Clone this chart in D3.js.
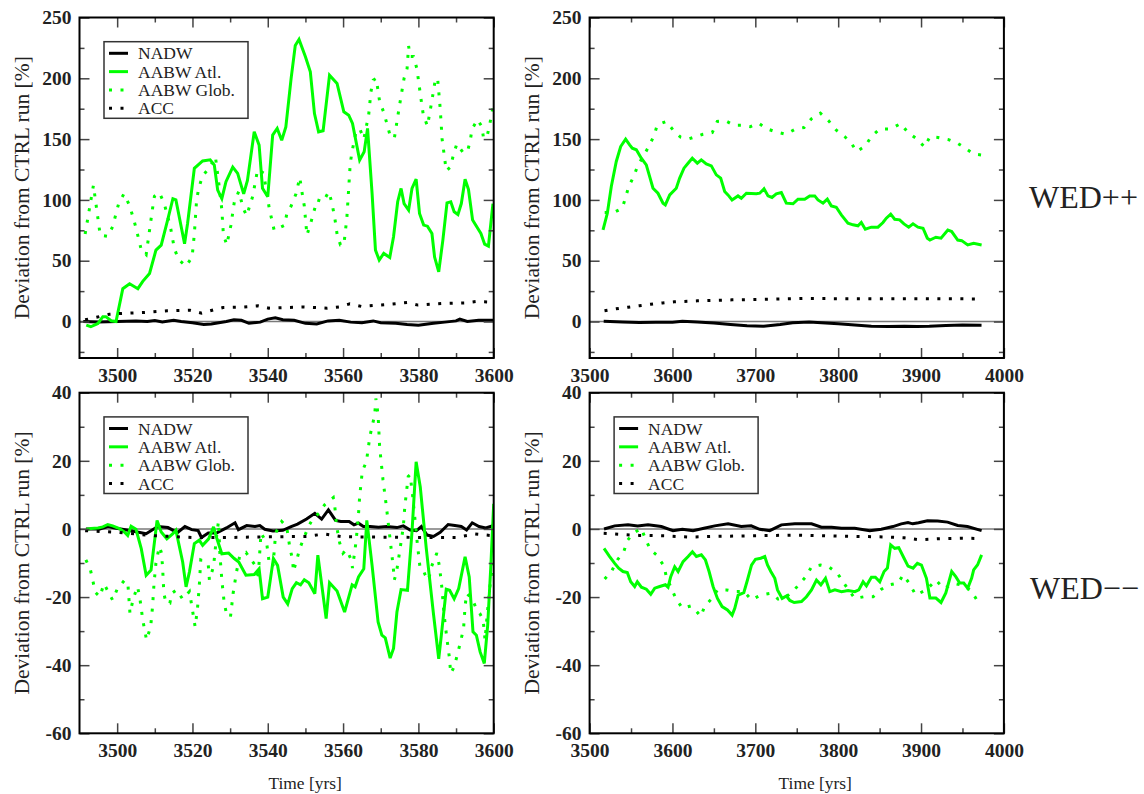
<!DOCTYPE html>
<html><head><meta charset="utf-8">
<script src="https://cdn.jsdelivr.net/npm/d3@7"></script>
<style>body{margin:0;background:#fff;} svg{display:block;}</style>
</head><body>
<svg id="c" width="1144" height="794"></svg>
<script>
// ---------------- DATA ----------------
const seriesNames = ["NADW", "AABW Atl.", "AABW Glob.", "ACC"];
const rowLabels = ["WED++", "WED\u2212\u2212"];
const yAxisTitle = "Deviation from CTRL run [%]";
const xAxisTitle = "Time [yrs]";

const xTicksShort = [3500, 3520, 3540, 3560, 3580, 3600];
const xMinorShort = [3510, 3530, 3550, 3570, 3590];
const xTicksLong = [3500, 3600, 3700, 3800, 3900, 4000];
const xMinorLong = [3550, 3650, 3750, 3850, 3950];
const yTicksTop = [0, 50, 100, 150, 200, 250];
const yMinorTop = [-25, 25, 75, 125, 175, 225];
const yTicksBottom = [-60, -40, -20, 0, 20, 40];
const yMinorBottom = [-50, -30, -10, 10, 30];

// Panel 1: WED++ , years 3490-3600
const p1_NADW = [[3491,0],[3495,-0.3],[3500,0],[3505,0.5],[3508,0],[3510,0.8],[3512,-0.3],[3515,1],[3517,0],[3520,-1],[3523,-2.5],[3525,-2],[3527,-1],[3529,0],[3531,1.5],[3533,1],[3535,-1.5],[3538,-0.5],[3540,2],[3542,3],[3544,1.5],[3547,1],[3550,-1.5],[3553,-2],[3556,0.5],[3559,1],[3562,-0.5],[3565,-1],[3568,0.5],[3570,-1],[3574,-1.5],[3577,-2.5],[3580,-3],[3584,-1.5],[3587,-0.5],[3590,0.5],[3591,2],[3593,0],[3596,1],[3600,1]];
const p1_AABW_Atl = [[3491.8,-3],[3493,-4.3],[3494.9,-1.6],[3496.2,4],[3497,4],[3498.4,0.6],[3499.7,0],[3501.5,27],[3503.3,31],[3505.5,27],[3506.8,33],[3508.6,39.5],[3510.3,58.7],[3511.7,62.8],[3513.4,83.4],[3514.8,101],[3515.6,100],[3517.9,64],[3518.7,80.6],[3520.5,126],[3522.7,132],[3524.7,133],[3525.8,128.6],[3526.7,108],[3527.8,101],[3528.9,115],[3530.7,127],[3532,121.8],[3533.6,105],[3534.6,116],[3536.4,156],[3537.7,145],[3538.6,109.5],[3540,102.6],[3541.3,153.3],[3542.5,158.8],[3543.7,149],[3544.8,160],[3546.2,200],[3547.3,227],[3548.3,232],[3550,217.7],[3551.3,205.4],[3552.4,171],[3553.5,156],[3554.7,156.9],[3556.4,202.6],[3558.4,195.8],[3560.2,172.5],[3561.5,169.7],[3562.5,162.9],[3564.4,132.7],[3565.6,139.6],[3566.5,158.8],[3567.7,105.3],[3568.6,58.7],[3569.6,50.5],[3570.8,56],[3572.4,52.7],[3573.4,69.7],[3574.5,98.5],[3575.4,109.4],[3576.2,97],[3577.4,91.6],[3578.3,109.4],[3579.4,117],[3580.3,88.9],[3581.4,79.3],[3582.4,78.4],[3583.6,72.4],[3584.3,53],[3585.4,40.9],[3586.5,66.9],[3587.6,97.6],[3588.6,98.5],[3589.5,90.2],[3590.5,88],[3591.4,97],[3592.4,117],[3593.3,108.6],[3594.4,83.4],[3595.5,77.9],[3596.6,72.4],[3597.6,63.6],[3598.6,62],[3599.8,97]];
const p1_AABW_Glob = [[3491.5,72],[3493.7,112],[3495.5,71],[3497.5,70],[3498.8,78],[3500.4,97],[3501.8,105],[3503.2,96],[3504.2,86],[3505,77],[3506.4,59],[3507.7,55],[3508.6,75],[3509.4,93],[3509.9,103],[3511.2,106],[3512.5,97],[3514.1,78.5],[3515.2,60],[3516.3,51],[3518.3,45.5],[3519.9,53],[3520.5,72],[3521.1,100],[3521.7,110],[3522.7,120],[3524.7,127],[3526.1,135.5],[3527.1,111],[3527.8,92],[3528.2,72],[3529.1,63],[3530.2,79],[3531.1,98],[3532.3,107],[3533.5,93],[3534.4,87],[3536,103],[3537.3,125],[3538.9,122],[3540.4,93],[3541.7,75],[3544.4,79],[3545.1,89],[3546.2,95],[3547.5,105],[3548.5,118.5],[3549,108],[3549.7,95],[3550.4,71],[3551.5,82],[3553.1,100],[3554.7,98.5],[3556.2,106.7],[3557,98],[3557.8,85],[3558.4,72],[3559.3,63],[3560.2,63],[3561,85],[3561.9,130],[3562.4,140],[3563.5,157],[3564.5,158],[3565.5,150],[3566.8,170],[3567.4,189],[3568,198.5],[3568.8,200],[3569.7,181],[3570.8,172],[3572.4,154],[3573.6,150.5],[3575,178],[3576.2,200],[3577,208],[3577.4,226.5],[3577.8,218],[3578.7,218],[3579.6,208],[3580.6,185],[3581.3,170],[3582.4,160.7],[3583.5,180],[3584.5,199],[3585.1,200],[3585.8,175],[3586.3,150],[3587.4,124],[3588.5,127],[3589.3,137],[3590.2,146],[3591.8,139.3],[3593,139.3],[3593.8,149],[3594.2,158],[3595.7,166],[3596.9,160],[3597.3,150.5],[3598.3,153],[3598.9,161.5],[3599.5,171],[3600,180]];
const p1_ACC = [[3491.5,1.4],[3494.5,3.5],[3497.9,6],[3502,6.8],[3507.2,7.4],[3513.3,8.8],[3519.3,9.3],[3522.4,6.9],[3525.5,9.5],[3528.1,11.5],[3533,11.8],[3537.4,12.9],[3540.3,11],[3545,11.5],[3549.6,12],[3555.8,11],[3558.9,12],[3561.8,14.5],[3564.9,12.4],[3571,13.8],[3577,15.6],[3579.9,13.5],[3586.1,14.8],[3592.3,15.3],[3595.2,16.4],[3600,16]];

// Panel 2: WED++ , years 3500-4000
const p2_NADW = [[3517,0.3],[3540,-0.3],[3560,-0.8],[3580,-0.5],[3600,-0.5],[3612,0.3],[3630,-0.3],[3650,-1.2],[3670,-2.5],[3690,-3.5],[3710,-3.8],[3730,-2.5],[3745,-1],[3765,-0.3],[3785,-1.2],[3800,-1.8],[3820,-2.8],[3840,-3.8],[3860,-4],[3880,-3.8],[3895,-4],[3910,-3.8],[3930,-3.2],[3950,-2.8],[3973,-3]];
const p2_AABW_Atl = [[3516.2,75.4],[3521.4,89],[3526.2,111],[3532.2,131.6],[3537.5,143.9],[3543.5,150],[3548.3,145.3],[3551.5,142.5],[3556.4,141.2],[3562.4,134.3],[3568.4,128.8],[3572.5,119.2],[3576.5,109.6],[3582.5,105.5],[3588.6,97.3],[3591.4,95.9],[3596.7,104.1],[3604.6,109.6],[3608.7,117.9],[3613.9,126.1],[3618.8,130.2],[3623.9,134.3],[3630,130.2],[3634.8,132.9],[3640.8,129.6],[3646.9,128],[3652.9,120.6],[3658.2,117.9],[3663,106.9],[3667,104.1],[3671.9,100],[3679.1,103.3],[3683.1,101.4],[3689.2,105.5],[3701.2,105],[3705.3,105.5],[3710.5,109.1],[3715.3,103.3],[3720.1,102],[3725.3,105],[3731.4,106.1],[3737.4,97.3],[3745.5,96.8],[3751.5,100.6],[3759.6,100.6],[3765.6,103.3],[3771.7,103.3],[3775.6,100],[3781.7,97.3],[3786.9,100.6],[3791.7,95.1],[3797.7,94],[3803.8,87.7],[3811.8,80.9],[3817.9,79.5],[3823.9,78.7],[3827.9,81.4],[3832.7,75.9],[3840,77.6],[3848,77.6],[3854.1,81.4],[3858.1,85],[3863.4,88.3],[3868.2,84.1],[3874.2,83.6],[3879.4,80.3],[3885.1,77.6],[3890.3,80.3],[3896.3,77.6],[3902.4,76.7],[3907.6,68.5],[3910.7,67],[3917.9,69.3],[3924.1,68.5],[3932.3,75.3],[3937,74],[3944.3,67],[3949.1,66.5],[3956.3,63],[3963.5,64.3],[3973.1,63]];
const p2_AABW_Glob = [[3518.2,89.6],[3529,89.6],[3539.5,93.2],[3543.5,102.2],[3547.2,111],[3553.6,119.8],[3558.4,128.8],[3564.8,135.7],[3571.3,143.9],[3577.7,152.7],[3581.7,161.7],[3592.6,164.5],[3601.9,156.5],[3609.9,151.6],[3619.9,150.2],[3628.8,152.1],[3636.8,154],[3648.1,155.4],[3654.1,164.5],[3664.2,165],[3674.3,161.4],[3683.9,161.4],[3694,160.3],[3704,163.1],[3714.1,158.4],[3724.6,156],[3736.6,154],[3748.3,158.2],[3758.8,159.5],[3767.6,166.7],[3778.5,171.3],[3788.5,165],[3797.8,157.3],[3807.8,152.1],[3815.9,146.6],[3822.3,139.8],[3832.8,144.4],[3840,152.1],[3850.1,158.2],[3863.4,158.4],[3875.4,162.8],[3884.3,155.4],[3894.3,150.5],[3904.4,143.4],[3910.7,152],[3920.3,151.4],[3932.3,149.8],[3944.3,146.5],[3953.9,142.4],[3963.5,137.7],[3973.1,136.9]];
const p2_ACC = [[3518,8.8],[3531.5,10.4],[3546.4,11.8],[3560,13],[3573.7,14.2],[3588,15.3],[3602,16.2],[3630,17],[3671.9,17.8],[3710,18.2],[3756.8,18.9],[3800,18.8],[3850,18.7],[3900,18.7],[3973,18.6]];

// Panel 3: WED-- , years 3490-3600
const p3_NADW = [[3491.7,0],[3495.4,0],[3497.6,0.7],[3499.4,0.3],[3502.5,-0.3],[3504.3,-0.7],[3507.7,-1.4],[3510.8,0.7],[3513.5,0.4],[3516,-1.1],[3518,0.7],[3519.8,-0.2],[3521.5,-0.5],[3522.4,-2.5],[3524.2,-1.2],[3526.4,-1.2],[3529,0.3],[3531.3,1.8],[3532.2,-0.2],[3534.4,1],[3536.6,0.7],[3537.9,1],[3539.2,-0.1],[3541.4,-0.6],[3544,-0.4],[3546.2,0.7],[3547.9,1.4],[3550.3,2.9],[3552.5,4.6],[3554.3,2.9],[3556.1,5.6],[3558,2.5],[3559.4,2.2],[3561.6,2.2],[3562.9,1.2],[3564.1,1.7],[3565.4,0.7],[3567.2,0.7],[3569.4,0.5],[3571.6,0.7],[3574.3,0.4],[3576,0.9],[3577.8,-0.3],[3579.5,-0.5],[3580.8,0.7],[3582.3,-1.8],[3584,-2.2],[3585.8,-1],[3587.9,1.3],[3589.7,1],[3591.4,0.7],[3592.8,-0.3],[3594.3,1.8],[3596.1,0.7],[3597.9,0.3],[3600,1]];
const p3_AABW_Atl = [[3491.8,-0.1],[3493.1,0.1],[3494.9,0.3],[3496.2,0.6],[3497.5,1.3],[3498.8,0.9],[3500.6,0.1],[3501.9,-0.9],[3502.8,-1.9],[3503.7,0.8],[3505,-0.1],[3506.4,-5.8],[3507.7,-13.6],[3509,-12.1],[3510.6,2.5],[3511.7,-0.9],[3513.2,-2.9],[3514.8,-1.4],[3515.6,-0.4],[3517.4,-9.7],[3518.3,-17],[3519.2,-12.6],[3520.5,-4.3],[3521.8,-3.3],[3522.7,-4.8],[3524.3,-2.9],[3525.6,0.6],[3526.5,-2.9],[3527.8,-7.3],[3529.6,-7.1],[3531.1,-8.7],[3532.3,-9.7],[3534.2,-13.6],[3536.4,-13.4],[3537.7,-11.7],[3538.6,-20.5],[3540,-20],[3541.5,-8.7],[3542.6,-10.7],[3544.1,-20],[3545.3,-22],[3546.5,-17.5],[3547.6,-15.8],[3548.7,-16.4],[3549.7,-14.9],[3550.9,-15.8],[3552.5,-19],[3553.3,-7.7],[3555.5,-26.3],[3556.4,-15.8],[3558.4,-18.2],[3560.4,-24.4],[3562.4,-16.4],[3563.2,-17],[3564.1,-14.1],[3565.5,-11.7],[3566.3,2.5],[3567.7,-10.7],[3569.3,-27.3],[3570.3,-31.2],[3571.2,-32],[3572.5,-37.9],[3573.4,-35.1],[3574.3,-24.4],[3575.4,-17.8],[3577.1,-18],[3578.3,-0.9],[3579.4,19.7],[3580.5,12.3],[3582.1,-5.8],[3584,-24.9],[3585.4,-38.1],[3586.1,-31.2],[3587.4,-17.7],[3588.3,-18],[3589.5,-20.5],[3590.7,-17.5],[3592.4,-8.2],[3593.5,-14.1],[3594.5,-30.2],[3595.4,-31.2],[3596.4,-36.1],[3597.5,-39.5],[3598.4,-28.3],[3599.2,-11.7],[3600,7.4]];
const p3_AABW_Glob = [[3491.7,-9.1],[3492.9,-12],[3493.6,-15.5],[3494.2,-18.6],[3495.4,-19.9],[3496.5,-16.1],[3497.6,-18.4],[3498.8,-20.9],[3500,-17.7],[3502,-15],[3502.9,-16.9],[3503.4,-24.8],[3504.3,-20.4],[3505.4,-16.9],[3506,-20.1],[3506.8,-26.7],[3507.8,-32.6],[3508.9,-28.7],[3509.4,-22.8],[3509.8,-15.9],[3510.3,-10],[3511.2,-5.2],[3511.8,-7.1],[3512.1,-12],[3512.4,-18.9],[3513,-21.8],[3514,-21.8],[3514.5,-18.9],[3515.8,-17.9],[3517.4,-20.6],[3519.2,-18.4],[3520,-23.8],[3520.7,-28.7],[3521.3,-23.8],[3521.8,-16.9],[3522.2,-9.1],[3523.4,-9.6],[3524.2,-10.6],[3524.5,-15],[3525.6,-11],[3526.3,-3.2],[3526.9,2.2],[3527.3,-7.6],[3527.8,-15],[3528.4,-21.4],[3529.1,-25.3],[3530.1,-25.8],[3530.8,-18.9],[3531.7,-12.6],[3532.6,-7.6],[3534.2,-6.9],[3536.6,-10.6],[3537.4,-15],[3538.2,-1.2],[3539.7,-4.1],[3540.5,-11],[3541.4,-10.6],[3542.1,-1.2],[3543.7,2.2],[3545,0.7],[3545.9,-5.7],[3546.6,-9.1],[3546.8,-12.5],[3547.7,-9.1],[3548.5,-5.7],[3549.4,-3.2],[3550.8,0.7],[3552.1,3.2],[3553.6,4.6],[3555.1,7.1],[3557.4,9.2],[3557.8,6.6],[3558.3,0.7],[3559.1,-4.1],[3560,-7.1],[3560.9,-6.1],[3562.2,-9.1],[3562.5,-11.5],[3563.4,-4.1],[3564,2.7],[3564.4,9.5],[3565.1,16.9],[3566.2,19.8],[3567.1,27.1],[3568.4,33.5],[3568.7,38.3],[3569.3,33.5],[3569.7,24.2],[3570.6,14.4],[3571.5,6.6],[3572.4,-2.2],[3573.3,-11],[3573.6,-15],[3574.2,-12.6],[3575.1,-6.1],[3576,0.7],[3576.4,6.6],[3577.3,15.4],[3577.8,15.9],[3578.5,9.5],[3579.1,2.7],[3579.7,-4.1],[3580.4,-11],[3581.1,-11.5],[3581.8,-13.5],[3582.7,-15],[3583.5,-11],[3584.9,-7.1],[3585.6,-11],[3586.2,-16.9],[3586.8,-24.8],[3587.5,-31.6],[3588.2,-37.5],[3588.6,-42.4],[3589.5,-40.5],[3590.2,-37.5],[3591.1,-33.6],[3592,-29.2],[3592.4,-22.8],[3592.8,-18.9],[3593.7,-19.9],[3594.6,-21.3],[3595.5,-23.8],[3596.3,-24.8],[3597.2,-26.7],[3597.7,-32.6],[3598.3,-24.8],[3599,-16.9],[3599.7,-10.1],[3600,-12]];
const p3_ACC = [[3491.5,-0.5],[3500,-1],[3510,-2],[3520,-2.5],[3530,-2.5],[3540,-2.3],[3550,-2.2],[3555,-1.5],[3560,-2.3],[3570,-2.4],[3580,-2.5],[3590,-2.5],[3595,-1.5],[3600,-2]];

// Panel 4: WED-- , years 3500-4000
const p4_NADW = [[3517.4,0],[3530.3,0.9],[3546.4,1.2],[3558,0.9],[3570.5,1.2],[3586.6,0.7],[3600.7,-0.5],[3612,-0.1],[3624.8,-0.5],[3638,0.2],[3651,0.9],[3667.1,1.5],[3683,0.7],[3695,0.9],[3705.3,-0.1],[3717.4,-0.5],[3731.5,1.2],[3747.7,1.5],[3767.8,1.5],[3779.8,0.5],[3792,0.5],[3804,0.2],[3820,0.2],[3838.1,-0.5],[3852,-0.1],[3866.1,0.7],[3876.1,1.5],[3884.3,1.9],[3890,1.5],[3897,1.8],[3907.7,2.4],[3920,2.3],[3932,2],[3944.3,1],[3956,0.7],[3973.1,-0.5]];
const p4_AABW_Atl = [[3517.4,-5.7],[3524.2,-8.1],[3530.3,-10.1],[3535.1,-11.5],[3540.3,-12.5],[3545.5,-12.8],[3549.6,-15.5],[3554.4,-16.9],[3557.6,-15.5],[3562.5,-17.1],[3568.5,-17.7],[3573.8,-19.2],[3578.6,-17.4],[3584.6,-16.9],[3591.5,-16.4],[3594.7,-17.1],[3597.9,-14],[3602.7,-11.1],[3606.8,-12.5],[3612.8,-9.6],[3618.9,-8.1],[3624.1,-6.7],[3628.9,-8.1],[3634.9,-7.6],[3639.8,-9.1],[3644.2,-12.5],[3649,-16.9],[3654.3,-20.4],[3659.9,-22.8],[3666.4,-23.8],[3672,-25.3],[3675.2,-23.3],[3679.3,-19.4],[3686.1,-18.7],[3690.5,-15],[3695.4,-10.6],[3700.2,-8.9],[3706.6,-8.6],[3711.4,-8.1],[3714.7,-10.6],[3718.7,-12.5],[3723.5,-14.5],[3726.8,-17.9],[3732.4,-20.4],[3737.6,-19.7],[3741.6,-21],[3746.9,-21.6],[3755.7,-21.3],[3761.7,-19.9],[3767.8,-17.9],[3773.8,-15],[3779.1,-16.4],[3784.7,-14.5],[3789.9,-18.4],[3796,-17.9],[3804,-18.4],[3812,-18.1],[3820.1,-18.4],[3824.9,-17.9],[3830.1,-15.5],[3834.1,-16.7],[3840.1,-14.2],[3844.9,-14.2],[3850.2,-15.5],[3855.4,-12.5],[3859.4,-11.5],[3863.4,-4.7],[3868.2,-5.7],[3873.1,-5.5],[3879.5,-8.6],[3884.3,-10.9],[3890.4,-11.5],[3895.6,-10.1],[3900.5,-10.6],[3906.5,-14.5],[3910.7,-20.3],[3917.9,-20.3],[3924.1,-21.6],[3929.9,-18.8],[3937,-12.5],[3941.9,-14],[3946.7,-15.9],[3951.5,-15.9],[3956.3,-17.4],[3961.1,-14.4],[3963.5,-12],[3968.3,-10.5],[3973.1,-7.6]];
const p4_AABW_Glob = [[3518.2,-14.7],[3527,-12.2],[3533.5,-9.1],[3541.2,-6.7],[3545.6,-3.4],[3552.4,-1.3],[3562.5,0.2],[3567.7,-3.2],[3573.8,-6.2],[3580.6,-7.6],[3589.9,-10.9],[3592.7,-14.2],[3598.7,-17.4],[3604,-20.4],[3612,-23.3],[3622.1,-22.6],[3627.7,-23.8],[3634.2,-25.7],[3639,-22.6],[3647,-20.6],[3654.3,-17.9],[3665.2,-17.9],[3675.2,-18.4],[3686.5,-18.4],[3695.4,-20.8],[3706.6,-19.4],[3718.7,-18.9],[3727.6,-20.6],[3737.6,-19.9],[3747.7,-17.7],[3761,-14],[3767.8,-11.1],[3778.5,-10.6],[3788.5,-11.1],[3799,-13],[3806.6,-15.8],[3812,-17.7],[3820,-20.4],[3831.3,-19.9],[3842.2,-19.9],[3852.2,-17.7],[3862.3,-16.4],[3872.3,-15.9],[3878.4,-13.5],[3885.6,-15.9],[3893.6,-19.4],[3906.5,-17.9],[3917.9,-15],[3927.4,-17.5],[3940,-16],[3950,-16.5],[3960,-18],[3968.3,-21.2]];
const p4_ACC = [[3517,-1.3],[3530,-1.5],[3560,-1.9],[3590,-2],[3620,-2.4],[3650,-2.2],[3700,-2],[3750,-1.8],[3800,-2.1],[3850,-2.3],[3880,-2.6],[3898,-3.2],[3920,-2.9],[3950,-2.7],[3970,-2.8]];

// ---------------- LAYOUT / STYLE ----------------
const serif = "'Liberation Serif','Times New Roman',serif";
const seriesStyle = [
  {color: "#000000", dash: null, width: 3},
  {color: "#00ff00", dash: null, width: 3},
  {color: "#00ff00", dash: "3,8.5", width: 3},
  {color: "#000000", dash: "3,8.5", width: 3}
];

const panels = [
  {box: [79.5, 493.7, 17.5, 358], xd: [3490, 3600], yd: [-30, 250], xt: xTicksShort, xm: xMinorShort, yt: yTicksTop, ym: yMinorTop,
   data: [p1_NADW, p1_AABW_Atl, p1_AABW_Glob, p1_ACC], legend: true, xlab: false},
  {box: [589.6, 1003.9, 17.5, 358], xd: [3500, 4000], yd: [-30, 250], xt: xTicksLong, xm: xMinorLong, yt: yTicksTop, ym: yMinorTop,
   data: [p2_NADW, p2_AABW_Atl, p2_AABW_Glob, p2_ACC], legend: false, xlab: false},
  {box: [79.5, 493.7, 392.7, 733.3], xd: [3490, 3600], yd: [-60, 40], xt: xTicksShort, xm: xMinorShort, yt: yTicksBottom, ym: yMinorBottom,
   data: [p3_NADW, p3_AABW_Atl, p3_AABW_Glob, p3_ACC], legend: true, xlab: true},
  {box: [589.6, 1003.9, 392.7, 733.3], xd: [3500, 4000], yd: [-60, 40], xt: xTicksLong, xm: xMinorLong, yt: yTicksBottom, ym: yMinorBottom,
   data: [p4_NADW, p4_AABW_Atl, p4_AABW_Glob, p4_ACC], legend: true, xlab: true}
];

const svg = d3.select("#c");
svg.append("rect").attr("width", 1144).attr("height", 794).attr("fill", "#fff");

function styleAxis(g) {
  g.select(".domain").remove();
  g.selectAll(".tick line").attr("stroke", "#444").attr("stroke-width", 1.5);
  g.attr("font-family", serif).attr("font-size", 19.5).attr("font-weight", "bold");
  g.selectAll(".tick text").attr("fill", "#222");
}

panels.forEach((p, i) => {
  const [l, r, t, b] = p.box;
  const x = d3.scaleLinear().domain(p.xd).range([l, r]);
  const y = d3.scaleLinear().domain(p.yd).range([b, t]);
  const g = svg.append("g");

  const clipId = "clip" + i;
  svg.append("clipPath").attr("id", clipId).append("rect")
    .attr("x", l).attr("y", t).attr("width", r - l).attr("height", b - t);

  // zero line
  g.append("line").attr("x1", l).attr("x2", r).attr("y1", y(0)).attr("y2", y(0))
    .attr("stroke", "#7a7a7a").attr("stroke-width", 1.6);

  // series
  const line = d3.line().x(d => x(d[0])).y(d => y(d[1]));
  const sg = g.append("g").attr("clip-path", `url(#${clipId})`);
  p.data.forEach((ser, k) => {
    const st = seriesStyle[k];
    sg.append("path").datum(ser).attr("d", line)
      .attr("fill", "none").attr("stroke", st.color).attr("stroke-width", st.width)
      .attr("stroke-dasharray", st.dash).attr("stroke-miterlimit", 3);
  });

  // axes: bottom (labels), top, left (labels), right
  const fmt = d => String(d);
  g.append("g").attr("transform", `translate(0,${b})`)
    .call(d3.axisBottom(x).tickValues(p.xt).tickSize(-10).tickPadding(10).tickFormat(fmt)).call(styleAxis);
  g.append("g").attr("transform", `translate(0,${b})`)
    .call(d3.axisBottom(x).tickValues(p.xm).tickSize(-5).tickFormat("")).call(styleAxis);
  g.append("g").attr("transform", `translate(0,${t})`)
    .call(d3.axisTop(x).tickValues(p.xt).tickSize(-10).tickFormat("")).call(styleAxis);
  g.append("g").attr("transform", `translate(0,${t})`)
    .call(d3.axisTop(x).tickValues(p.xm).tickSize(-5).tickFormat("")).call(styleAxis);
  g.append("g").attr("transform", `translate(${l},0)`)
    .call(d3.axisLeft(y).tickValues(p.yt).tickSize(-10).tickPadding(8).tickFormat(fmt)).call(styleAxis);
  g.append("g").attr("transform", `translate(${l},0)`)
    .call(d3.axisLeft(y).tickValues(p.ym).tickSize(-5).tickFormat("")).call(styleAxis);
  g.append("g").attr("transform", `translate(${r},0)`)
    .call(d3.axisRight(y).tickValues(p.yt).tickSize(-10).tickFormat("")).call(styleAxis);
  g.append("g").attr("transform", `translate(${r},0)`)
    .call(d3.axisRight(y).tickValues(p.ym).tickSize(-5).tickFormat("")).call(styleAxis);

  // frame
  g.append("rect").attr("x", l).attr("y", t).attr("width", r - l).attr("height", b - t)
    .attr("fill", "none").attr("stroke", "#000").attr("stroke-width", 2);

  // y title
  g.append("text").attr("transform", `translate(${l - 58.5},${(t + b) / 2}) rotate(-90)`)
    .attr("text-anchor", "middle").attr("dy", "0.35em")
    .attr("font-family", serif).attr("font-size", 21.5).attr("fill", "#222").text(yAxisTitle);

  // x title
  if (p.xlab) {
    g.append("text").attr("x", (l + r) / 2 + 18.5).attr("y", 783).attr("text-anchor", "middle").attr("dy", "0.35em")
      .attr("font-family", serif).attr("font-size", 17.4).attr("fill", "#222").text(xAxisTitle);
  }

  // legend
  if (p.legend) {
    const lx = l + 24.5, ly = t + 24.2;
    const lg = g.append("g");
    lg.append("rect").attr("x", lx).attr("y", ly).attr("width", 144).attr("height", 76.6)
      .attr("fill", "#fff").attr("stroke", "#333").attr("stroke-width", 1.5);
    seriesNames.forEach((name, k) => {
      const st = seriesStyle[k];
      const yy = ly + 11.6 + k * 18.33;
      lg.append("line").attr("x1", lx + 5).attr("x2", lx + 24).attr("y1", yy).attr("y2", yy)
        .attr("stroke", st.color).attr("stroke-width", st.width).attr("stroke-dasharray", st.dash);
      lg.append("text").attr("x", lx + 34).attr("y", yy).attr("dy", "0.35em")
        .attr("font-family", serif).attr("font-size", 17.5).attr("fill", "#222").text(name);
    });
  }
});

// row labels
svg.append("text").attr("x", 1029).attr("y", 197).attr("dy", "0.35em")
  .attr("font-family", serif).attr("font-size", 32).attr("fill", "#222").text(rowLabels[0]);
svg.append("text").attr("x", 1030).attr("y", 588).attr("dy", "0.35em")
  .attr("font-family", serif).attr("font-size", 32).attr("fill", "#222").text(rowLabels[1]);
</script>
</body></html>
